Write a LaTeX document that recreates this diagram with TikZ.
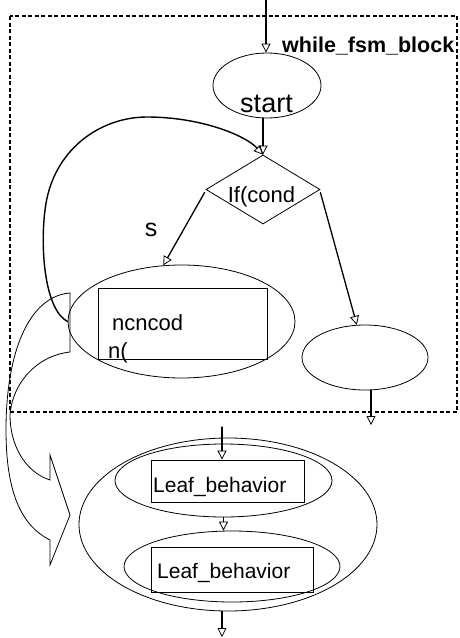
\documentclass[tikz,border=0pt]{standalone}
\usepackage{fontspec}
\setmainfont{Liberation Sans}
\usetikzlibrary{arrows.meta, shapes.geometric, calc}

\begin{document}
\begin{tikzpicture}[x=1pt, y=-1pt, line cap=round,
    flow/.style={line width=1.3pt, -{Triangle[open, length=9pt, width=9pt, line width=0.8pt]}},
    blob/.style={ellipse, draw, line width=0.8pt, inner sep=0pt},
    box/.style={rectangle, draw, line width=0.8pt, inner sep=0pt},
    lbl/.style={inner sep=0pt, anchor=base west, font=\fontsize{22}{24}\selectfont}]
    % while block frame
    \draw[line width=1.1pt, line cap=butt, dash pattern=on 4pt off 2.5pt] (10,16) rectangle (457,412);
    \coordinate (top in) at (266,0);
    \node[blob, minimum width=108pt, minimum height=65pt] (start) at (267,85.5) {};
    \node[lbl, anchor=base, font=\fontsize{27}{30}\selectfont] (start text) at (266.5,112) {start};
    \node[lbl, font=\fontsize{21.5}{24}\selectfont\bfseries] (block name) at (282,52) {while\_fsm\_block};
    \node[diamond, draw, line width=0.8pt, minimum width=114pt, minimum height=69pt, inner sep=0pt] (cond) at (263,189.5) {};
    \node[lbl, anchor=base] (cond text) at (261.5,202) {If(cond};
    \node[lbl, anchor=base, font=\fontsize{25}{28}\selectfont] (yes text) at (151,236) {s};
    % loop body
    \node[blob, minimum width=227pt, minimum height=113pt] (body) at (181.5,321.5) {};
    \node[box, minimum width=169pt, minimum height=71pt] (body box) at (182.5,323.5) {};
    \node[lbl] (body text1) at (112,330) {ncncod};
    \node[lbl] (body text2) at (108,358) {n(};
    \node[blob, minimum width=126pt, minimum height=65pt] (exit) at (365,357.5) {};
    \coordinate (exit out) at (371,425);
    % sequence of leaves
    \coordinate (seq in) at (222,427);
    \node[blob, minimum width=298pt, minimum height=173pt] (seq) at (228,524.5) {};
    \node[blob, minimum width=217pt, minimum height=73pt] (leaf1) at (223.5,480.5) {};
    \node[box, minimum width=153pt, minimum height=42pt] (leaf1 box) at (227.5,481) {};
    \node[lbl, font=\fontsize{21}{24}\selectfont] (leaf1 text) at (153,492) {Leaf\_behavior};
    \node[blob, minimum width=216pt, minimum height=71pt] (leaf2) at (232,566.5) {};
    \node[box, minimum width=162pt, minimum height=45pt] (leaf2 box) at (232,569.5) {};
    \node[lbl, font=\fontsize{21}{24}\selectfont] (leaf2 text) at (157,578) {Leaf\_behavior};
    \coordinate (seq out) at (222,637);
    % connectors
    \draw[flow] (top in) -- (top in |- start.north);
    \draw[flow] (start.south -| cond.north) -- (cond.north);
    \draw[flow] ($(cond.west)+(-1,3)$) -- (body.108);
    \draw[flow] ($(cond.east)+(0,3)$) -- (exit.104);
    \draw[flow] (exit.south -| exit out) -- (exit out);
    \draw[flow, line width=1.4pt] (body.west) .. controls (45,310) and (40,250) .. (45,210)
        .. controls (52,150) and (100,117) .. (147,117)
        .. controls (200,117) and (245,135) .. (cond.north);
    \draw[flow] (seq in) -- (seq in |- leaf1 box.north);
    \draw[flow] (leaf1.south) -- (leaf1.south |- leaf2.north);
    \draw[flow] (seq.south -| seq out) -- (seq out);
    % refinement arrow
    \draw[line width=0.8pt] (70,293) -- (70,352) .. controls (35,356) and (12,385) .. (10,415)
        .. controls (10,445) and (25,472) .. (50,480) -- (50,455) -- (70,515) -- (50,565) -- (50,540)
        .. controls (20,525) and (6,490) .. (6,430) .. controls (6,350) and (30,296) .. (70,293) -- cycle;
    \pgfresetboundingbox
    \path (0,0) rectangle (459,638);
\end{tikzpicture}
\end{document}
